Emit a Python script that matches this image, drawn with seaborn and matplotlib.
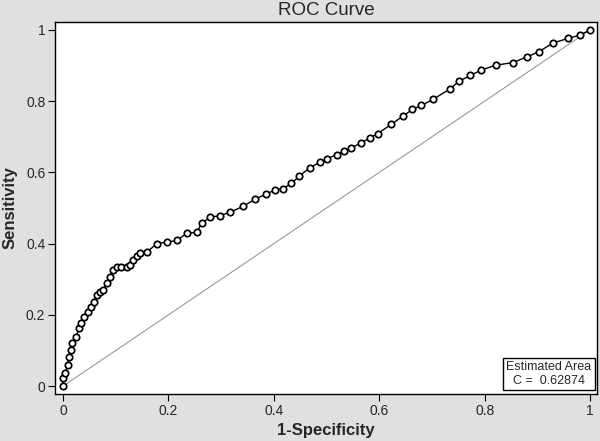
import numpy as np
import matplotlib
matplotlib.use('Agg')
import matplotlib.pyplot as plt
import seaborn as sns

# ROC points
fpr = [0.000, 0.000, 0.004, 0.009, 0.011, 0.015, 0.018, 0.025, 0.031, 0.034,
       0.040, 0.047, 0.053, 0.059, 0.064, 0.070, 0.076, 0.083, 0.089, 0.095,
       0.102, 0.111, 0.121, 0.127, 0.133, 0.140, 0.146, 0.159, 0.178, 0.197,
       0.216, 0.235, 0.254, 0.263, 0.279, 0.298, 0.317, 0.342, 0.364, 0.386,
       0.402, 0.417, 0.433, 0.448, 0.468, 0.487, 0.501, 0.519, 0.534, 0.547,
       0.566, 0.582, 0.597, 0.623, 0.645, 0.663, 0.680, 0.702, 0.735, 0.751,
       0.773, 0.793, 0.821, 0.853, 0.880, 0.903, 0.929, 0.958, 0.980, 1.000]
tpr = [0.000, 0.022, 0.036, 0.059, 0.082, 0.101, 0.120, 0.139, 0.162, 0.176,
       0.195, 0.209, 0.223, 0.237, 0.255, 0.264, 0.269, 0.289, 0.306, 0.325,
       0.334, 0.334, 0.334, 0.339, 0.353, 0.365, 0.373, 0.376, 0.400, 0.404,
       0.409, 0.429, 0.432, 0.457, 0.474, 0.479, 0.488, 0.505, 0.524, 0.540,
       0.550, 0.554, 0.569, 0.589, 0.613, 0.628, 0.638, 0.650, 0.659, 0.669,
       0.683, 0.697, 0.709, 0.735, 0.758, 0.777, 0.788, 0.805, 0.835, 0.856,
       0.872, 0.887, 0.901, 0.908, 0.924, 0.939, 0.963, 0.976, 0.985, 1.000]
diag = [0, 1]
tick_vals = [0, 0.2, 0.4, 0.6, 0.8, 1]
tick_labels = ['0', '0.2', '0.4', '0.6', '0.8', '1']
area_c = 0.62874

sns.set_style('white')
plt.rcParams['font.family'] = ['Liberation Sans', 'DejaVu Sans']

fig = plt.figure(figsize=(6, 4.41), dpi=100, facecolor='#e0e0e0')
ax = fig.add_axes([0.0917, 0.1066, 0.9033, 0.8434])
ax.set_facecolor('white')

# chance line
sns.lineplot(x=diag, y=diag, ax=ax, color='#9a9a9a', linewidth=0.8)

# ROC curve
sns.lineplot(x=fpr, y=tpr, ax=ax, sort=False, estimator=None, color='black',
             linewidth=1.0, marker='o', markersize=4.6, markerfacecolor='white',
             markeredgecolor='black', markeredgewidth=1.25)

ax.set_xlim(-0.015, 1.013)
ax.set_ylim(-0.022, 1.022)
ax.set_xticks(tick_vals)
ax.set_xticklabels(tick_labels)
ax.set_yticks(tick_vals)
ax.set_yticklabels(tick_labels)
ax.tick_params(axis='both', direction='out', length=5, width=0.8, color='black',
               labelsize=10, pad=2, bottom=True, left=True)

for s in ax.spines.values():
    s.set_color('black')
    s.set_linewidth(1)

ax.set_title('ROC Curve', fontsize=13.5, pad=5)
ax.set_xlabel('1-Specificity', fontsize=12, fontweight='bold', labelpad=4)
ax.set_ylabel('Sensitivity', fontsize=12, fontweight='bold', labelpad=6)

ax.text(0.99, 0.018, 'Estimated Area\nC =  %.5f' % area_c, transform=ax.transAxes,
        ha='right', va='bottom', fontsize=9, multialignment='center',
        bbox=dict(boxstyle='square,pad=0.25', facecolor='white', edgecolor='black',
                  linewidth=1))

fig.savefig('out.png', dpi=100, facecolor=fig.get_facecolor())
